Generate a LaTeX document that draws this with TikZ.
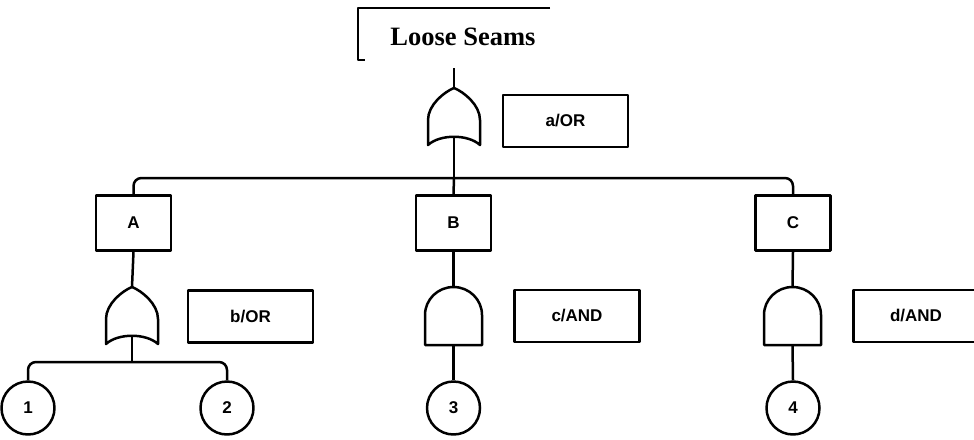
\documentclass[tikz,border=0pt]{standalone}
\usepackage{fontspec}
\setmainfont{Liberation Serif}
\setsansfont{Liberation Sans}
\begin{document}
\begin{tikzpicture}[x=1pt,y=-1pt,line width=2.5pt,line join=round,
  evt/.style={draw,minimum width=75pt,minimum height=55pt,inner sep=0pt,
    font=\sffamily\bfseries\fontsize{17}{17}\selectfont},
  gatetag/.style={draw,minimum width=125pt,minimum height=52pt,inner sep=0pt,
    font=\sffamily\bfseries\fontsize{17}{17}\selectfont},
  basic/.style={draw,circle,minimum size=53pt,inner sep=0pt,
    font=\sffamily\bfseries\fontsize{17}{17}\selectfont},
  wire/.style={rounded corners=8pt},
  orgate/.pic={\draw (-26,57) -- (-26,32) .. controls (-26,17) and (-10,4) .. (0,0)
      .. controls (10,4) and (26,17) .. (26,32) -- (26,57)
      .. controls (14,46) and (-14,46) .. cycle;},
  andgate/.pic={\draw (-28.5,58) -- (-28.5,28) .. controls (-28.5,12.5) and (-15.7,0) .. (0,0)
      .. controls (15.7,0) and (28.5,12.5) .. (28.5,28) -- (28.5,58) -- cycle;}]
\useasboundingbox (0,0) rectangle (974,439);

% top event: open frame with title
\draw (550,8) -- (358,8) -- (358,60) -- (365,60);
\node[font=\bfseries\fontsize{26.5}{26.5}\selectfont] (top) at (463,37) {Loose Seams};
\coordinate (toppin) at (454,68);

% gate a (OR)
\pic at (454,88) {orgate};
\coordinate (ga-in) at (454,88);
\coordinate (ga-out) at (454,138);
\node[gatetag] (ta) at (565.5,121) {a/OR};

% intermediate events
\node[evt] (A) at (133.5,223) {A};
\node[evt] (B) at (453.5,223) {B};
\node[evt] (C) at (793,223) {C};
\coordinate (bus) at (454,178);

% gate b (OR) under A
\pic at (132,287) {orgate};
\coordinate (gb-in) at (132,287);
\coordinate (gb-out) at (132,337);
\node[gatetag] (tb) at (250.5,316.5) {b/OR};
\coordinate (busb) at (132,362);

% gate c (AND) under B
\pic at (453.5,287) {andgate};
\coordinate (gc-in) at (453.5,287);
\coordinate (gc-out) at (453.5,345);
\node[gatetag] (tc) at (577,316) {c/AND};

% gate d (AND) under C
\pic at (792.5,287) {andgate};
\coordinate (gd-in) at (792.5,287);
\coordinate (gd-out) at (792.5,345);
\node[gatetag] (td) at (916,316) {d/AND};

% basic events
\node[basic] (e1) at (28,408) {1};
\node[basic] (e2) at (227,408) {2};
\node[basic] (e3) at (453.5,408) {3};
\node[basic] (e4) at (793,408) {4};

% connectors
\draw (toppin) -- (ga-in);
\draw (ga-out) -- (bus);
\draw[wire] (A.north) |- (bus) -| (C.north);
\draw (bus) -- (B.north);
\draw (A.south) -- (gb-in);
\draw (gb-out) -- (busb);
\draw[wire] (e1.north) |- (busb) -| (e2.north);
\draw (B.south) -- (gc-in);
\draw (gc-out) -- (e3.north);
\draw (C.south) -- (gd-in);
\draw (gd-out) -- (e4.north);
\end{tikzpicture}
\end{document}
